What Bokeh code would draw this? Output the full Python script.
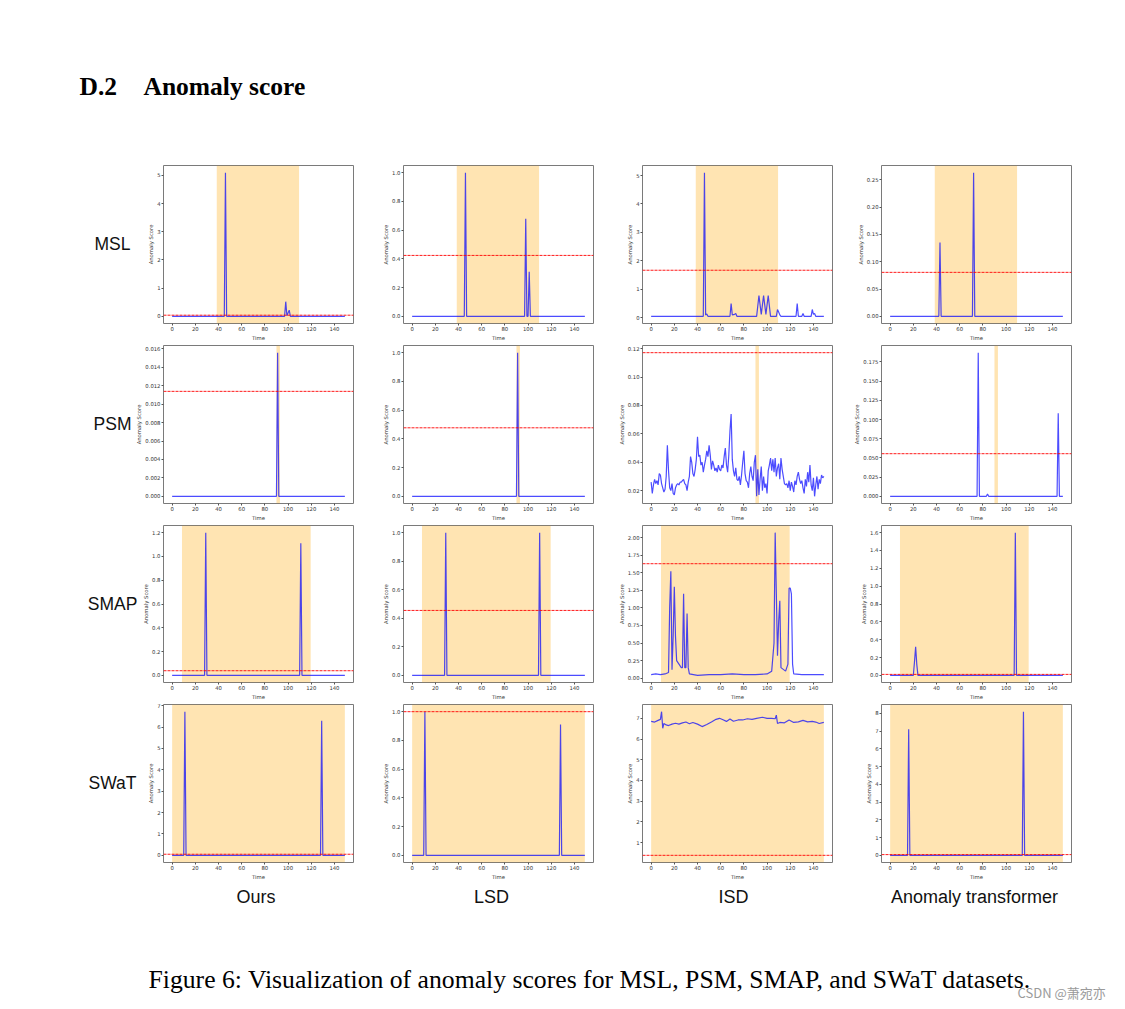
from bokeh.plotting import figure
from bokeh.models import Range1d, FixedTicker, Span
from bokeh.layouts import column, row
from bokeh.embed import file_html
from bokeh.resources import INLINE
from bokeh.core.properties import value

ROWS = ["MSL", "PSM", "SMAP", "SWaT"]
COLS = ["Ours", "LSD", "ISD", "Anomaly transformer"]
TITLE_NUM = "D.2"
TITLE_TXT = "Anomaly score"
CAPTION = "Figure 6: Visualization of anomaly scores for MSL, PSM, SMAP, and SWaT datasets."
WATERMARK = "CSDN @萧宛亦"

XTICKS = [0, 20, 40, 60, 80, 100, 120, 140]
XLABELS = ["0", "20", "40", "60", "80", "100", "120", "140"]
T_START, T_END = 0, 149

# ---------------- MSL ----------------
MSL_SPAN = (38.5, 109.5)
MSL_OURS_T = [0, 45, 46, 47, 97, 98, 99, 101, 102, 149]
MSL_OURS_V = [0, 0, 5.1, 0, 0, 0.52, 0.02, 0.22, 0, 0]
MSL_OURS_THR = 0.04
MSL_LSD_T = [0, 45, 46, 47, 97, 98, 99, 100, 101, 102, 149]
MSL_LSD_V = [0, 0, 1.0, 0, 0, 0.68, 0, 0, 0.31, 0, 0]
MSL_LSD_THR = 0.424
MSL_ISD_T = [0, 45, 46, 47, 48, 49, 68, 69, 70, 72, 73, 74, 91, 93, 95, 97, 99, 101, 103,
             108, 109, 110, 111, 112, 125, 126, 127, 130, 131, 132, 138, 139, 140, 141, 142, 149]
MSL_ISD_V = [0.05, 0.05, 5.1, 0.1, 0.13, 0.05, 0.05, 0.5, 0.1, 0.12, 0.15, 0.05, 0.05, 0.78, 0.12,
             0.78, 0.12, 0.78, 0.05, 0.05, 0.29, 0.2, 0.1, 0.05, 0.05, 0.5, 0.05, 0.05, 0.15, 0.05,
             0.05, 0.29, 0.12, 0.15, 0.05, 0.05]
MSL_ISD_THR = 1.67
MSL_AT_T = [0, 42, 43, 44, 71, 72, 73, 149]
MSL_AT_V = [0, 0, 0.135, 0, 0, 0.263, 0, 0]
MSL_AT_THR = 0.0805

# ---------------- PSM ----------------
PSM_SPAN = (90, 93)
PSM_OURS_T = [0, 90, 91, 92, 149]
PSM_OURS_V = [0, 0, 0.0156, 0, 0]
PSM_OURS_THR = 0.0114
PSM_LSD_T = [0, 90, 91, 92, 149]
PSM_LSD_V = [0, 0, 1.0, 0, 0]
PSM_LSD_THR = 0.477
PSM_ISD_T = list(range(0, 150))
PSM_ISD_V = [0.026, 0.018, 0.024, 0.028, 0.025, 0.027, 0.024, 0.032, 0.031, 0.025,
             0.022, 0.019, 0.021, 0.030, 0.052, 0.034, 0.022, 0.020, 0.025, 0.018,
             0.017, 0.022, 0.024, 0.025, 0.024, 0.026, 0.026, 0.027, 0.028, 0.025,
             0.024, 0.020, 0.026, 0.030, 0.044, 0.040, 0.032, 0.030, 0.035, 0.042,
             0.058, 0.044, 0.045, 0.038, 0.040, 0.033, 0.038, 0.042, 0.048, 0.044,
             0.052, 0.045, 0.035, 0.041, 0.038, 0.034, 0.036, 0.033, 0.038, 0.035,
             0.034, 0.038, 0.036, 0.044, 0.050, 0.038, 0.033, 0.045, 0.062, 0.074,
             0.042, 0.034, 0.030, 0.036, 0.028, 0.027, 0.030, 0.024, 0.031, 0.040,
             0.048, 0.032, 0.027, 0.026, 0.022, 0.032, 0.037, 0.030, 0.027, 0.040,
             0.045, 0.016, 0.035, 0.017, 0.028, 0.037, 0.020, 0.030, 0.022, 0.025,
             0.018, 0.034, 0.038, 0.043, 0.034, 0.042, 0.033, 0.043, 0.030, 0.036,
             0.039, 0.028, 0.043, 0.035, 0.030, 0.025, 0.024, 0.025, 0.022, 0.027,
             0.020, 0.026, 0.023, 0.019, 0.027, 0.024, 0.030, 0.033, 0.028, 0.025,
             0.027, 0.022, 0.018, 0.028, 0.023, 0.033, 0.026, 0.038, 0.024, 0.020,
             0.029, 0.016, 0.024, 0.030, 0.021, 0.028, 0.025, 0.031, 0.029, 0.030]
PSM_ISD_THR = 0.1172
PSM_AT_T = [0, 75, 76, 77, 83, 84, 85, 144, 145, 146, 149]
PSM_AT_V = [0, 0, 0.187, 0, 0, 0.003, 0, 0, 0.108, 0, 0]
PSM_AT_THR = 0.0555

# ---------------- SMAP ----------------
SMAP_SPAN = (8.5, 119.5)
SMAP_OURS_T = [0, 28, 29, 30, 110, 111, 112, 149]
SMAP_OURS_V = [0, 0, 1.2, 0, 0, 1.11, 0, 0]
SMAP_OURS_THR = 0.039
SMAP_LSD_T = [0, 28, 29, 30, 109, 110, 111, 149]
SMAP_LSD_V = [0, 0, 1.0, 0, 0, 1.0, 0, 0]
SMAP_LSD_THR = 0.455
SMAP_ISD_T = [0, 4, 8, 12, 15, 16, 17, 18, 19, 20, 21, 22, 24, 26, 27, 28, 29, 30, 31, 32, 33,
              40, 50, 60, 70, 80, 90, 100, 104, 106, 107, 108, 109, 110, 111, 112, 116, 118,
              119, 120, 121, 122, 123, 130, 140, 149]
SMAP_ISD_V = [0.05, 0.06, 0.05, 0.06, 0.08, 1.0, 1.52, 0.12, 0.6, 1.3, 0.6, 0.25, 0.2, 0.15, 0.15,
              1.2, 0.15, 0.15, 0.92, 0.15, 0.06, 0.04, 0.05, 0.05, 0.06, 0.05, 0.05, 0.06, 0.1,
              0.5, 2.07, 1.2, 0.32, 0.8, 1.1, 0.15, 0.1, 0.2, 1.28, 1.28, 1.2, 0.2, 0.06, 0.05,
              0.05, 0.05]
SMAP_ISD_THR = 1.628
SMAP_AT_T = [0, 20, 21, 22, 23, 24, 107, 108, 109, 149]
SMAP_AT_V = [0, 0, 0.15, 0.32, 0.12, 0, 0, 1.6, 0, 0]
SMAP_AT_THR = 0.011

# ---------------- SWaT ----------------
SWAT_SPAN = (0, 149)
SWAT_OURS_T = [0, 10, 11, 12, 128, 129, 130, 149]
SWAT_OURS_V = [0, 0, 6.72, 0, 0, 6.3, 0, 0]
SWAT_OURS_THR = 0.05
SWAT_LSD_T = [0, 10, 11, 12, 127, 128, 129, 149]
SWAT_LSD_V = [0, 0, 1.0, 0, 0, 0.91, 0, 0]
SWAT_LSD_THR = 1.0
SWAT_ISD_T = [0, 3, 6, 8, 9, 10, 11, 13, 15, 18, 21, 24, 27, 30, 33, 36, 40, 44, 48, 52, 56, 59,
              62, 65, 68, 71, 75, 79, 83, 87, 91, 96, 100, 104, 107, 108, 109, 111, 115, 119,
              123, 127, 131, 135, 139, 142, 145, 149]
SWAT_ISD_V = [6.85, 6.82, 6.9, 6.95, 7.32, 6.52, 6.75, 6.68, 6.65, 6.72, 6.76, 6.72, 6.78, 6.82,
              6.74, 6.8, 6.72, 6.6, 6.7, 6.82, 6.95, 7.0, 6.93, 6.85, 6.97, 6.86, 6.92, 6.92, 6.98,
              6.95, 7.0, 7.05, 7.0, 7.0, 6.98, 7.15, 6.75, 6.8, 6.78, 6.92, 6.8, 6.83, 6.9, 6.83,
              6.85, 6.82, 6.75, 6.8]
SWAT_ISD_THR = 0.385
SWAT_AT_T = [0, 15, 16, 17, 114, 115, 116, 149]
SWAT_AT_V = [0, 0, 7.1, 0, 0, 8.09, 0, 0]
SWAT_AT_THR = 0.04

# ---------------- y tick values / labels ----------------
YT_0_5 = [0, 1, 2, 3, 4, 5]
YL_0_5 = ["0", "1", "2", "3", "4", "5"]
YT_UNIT = [0.0, 0.2, 0.4, 0.6, 0.8, 1.0]
YL_UNIT = ["0.0", "0.2", "0.4", "0.6", "0.8", "1.0"]
YT_MSL_AT = [0.0, 0.05, 0.1, 0.15, 0.2, 0.25]
YL_MSL_AT = ["0.00", "0.05", "0.10", "0.15", "0.20", "0.25"]
YT_PSM_OURS = [0.0, 0.002, 0.004, 0.006, 0.008, 0.01, 0.012, 0.014, 0.016]
YL_PSM_OURS = ["0.000", "0.002", "0.004", "0.006", "0.008", "0.010", "0.012", "0.014", "0.016"]
YT_PSM_ISD = [0.02, 0.04, 0.06, 0.08, 0.1, 0.12]
YL_PSM_ISD = ["0.02", "0.04", "0.06", "0.08", "0.10", "0.12"]
YT_PSM_AT = [0.0, 0.025, 0.05, 0.075, 0.1, 0.125, 0.15, 0.175]
YL_PSM_AT = ["0.000", "0.025", "0.050", "0.075", "0.100", "0.125", "0.150", "0.175"]
YT_SMAP_OURS = [0.0, 0.2, 0.4, 0.6, 0.8, 1.0, 1.2]
YL_SMAP_OURS = ["0.0", "0.2", "0.4", "0.6", "0.8", "1.0", "1.2"]
YT_SMAP_ISD = [0.0, 0.25, 0.5, 0.75, 1.0, 1.25, 1.5, 1.75, 2.0]
YL_SMAP_ISD = ["0.00", "0.25", "0.50", "0.75", "1.00", "1.25", "1.50", "1.75", "2.00"]
YT_SMAP_AT = [0.0, 0.2, 0.4, 0.6, 0.8, 1.0, 1.2, 1.4, 1.6]
YL_SMAP_AT = ["0.0", "0.2", "0.4", "0.6", "0.8", "1.0", "1.2", "1.4", "1.6"]
YT_SWAT_OURS = [0, 1, 2, 3, 4, 5, 6, 7]
YL_SWAT_OURS = ["0", "1", "2", "3", "4", "5", "6", "7"]
YT_SWAT_ISD = [1, 2, 3, 4, 5, 6, 7]
YL_SWAT_ISD = ["1", "2", "3", "4", "5", "6", "7"]
YT_SWAT_AT = [0, 1, 2, 3, 4, 5, 6, 7, 8]
YL_SWAT_AT = ["0", "1", "2", "3", "4", "5", "6", "7", "8"]

PANELS = [
    [(MSL_OURS_T, MSL_OURS_V, MSL_OURS_THR, MSL_SPAN, YT_0_5, YL_0_5),
     (MSL_LSD_T, MSL_LSD_V, MSL_LSD_THR, MSL_SPAN, YT_UNIT, YL_UNIT),
     (MSL_ISD_T, MSL_ISD_V, MSL_ISD_THR, MSL_SPAN, YT_0_5, YL_0_5),
     (MSL_AT_T, MSL_AT_V, MSL_AT_THR, MSL_SPAN, YT_MSL_AT, YL_MSL_AT)],
    [(PSM_OURS_T, PSM_OURS_V, PSM_OURS_THR, PSM_SPAN, YT_PSM_OURS, YL_PSM_OURS),
     (PSM_LSD_T, PSM_LSD_V, PSM_LSD_THR, PSM_SPAN, YT_UNIT, YL_UNIT),
     (PSM_ISD_T, PSM_ISD_V, PSM_ISD_THR, PSM_SPAN, YT_PSM_ISD, YL_PSM_ISD),
     (PSM_AT_T, PSM_AT_V, PSM_AT_THR, PSM_SPAN, YT_PSM_AT, YL_PSM_AT)],
    [(SMAP_OURS_T, SMAP_OURS_V, SMAP_OURS_THR, SMAP_SPAN, YT_SMAP_OURS, YL_SMAP_OURS),
     (SMAP_LSD_T, SMAP_LSD_V, SMAP_LSD_THR, SMAP_SPAN, YT_UNIT, YL_UNIT),
     (SMAP_ISD_T, SMAP_ISD_V, SMAP_ISD_THR, SMAP_SPAN, YT_SMAP_ISD, YL_SMAP_ISD),
     (SMAP_AT_T, SMAP_AT_V, SMAP_AT_THR, SMAP_SPAN, YT_SMAP_AT, YL_SMAP_AT)],
    [(SWAT_OURS_T, SWAT_OURS_V, SWAT_OURS_THR, SWAT_SPAN, YT_SWAT_OURS, YL_SWAT_OURS),
     (SWAT_LSD_T, SWAT_LSD_V, SWAT_LSD_THR, SWAT_SPAN, YT_UNIT, YL_UNIT),
     (SWAT_ISD_T, SWAT_ISD_V, SWAT_ISD_THR, SWAT_SPAN, YT_SWAT_ISD, YL_SWAT_ISD),
     (SWAT_AT_T, SWAT_AT_V, SWAT_AT_THR, SWAT_SPAN, YT_SWAT_AT, YL_SWAT_AT)],
]

# ---------------- layout constants ----------------
PAGE_W = 1117
HEADER_H = 163
FRAME1_LEFT = 163                 # screen x of first column's plot frame
LABEL_W = [134, 131, 138, 138]    # row-label strip width, per row
COL_W = [None, 239, 239, 240]
COL_LEFT = [None, 40, 40, 40]
COL_RIGHT = [10, 9, 9, 10]
FRAME_W = 190
ROW_H = [180, 180, 179, 180]
ROW_BOTTOM = [19, 19, 18, 19]
BORDER_TOP = 2
FOOTER_H = 125

TICK_FONT = "DejaVu Sans"
TICK_SIZE = "5.3px"
TICK_COLOR = "#333333"


def panel(t, v, thr, span, yticks, ylabels, w, h, left, right, bottom):
    ymin = min(min(v), thr)
    ymax = max(max(v), thr)
    ypad = 0.05 * (ymax - ymin)
    xpad = 0.05 * (T_END - T_START)
    p = figure(width=w, height=h,
               x_range=Range1d(T_START - xpad, T_END + xpad),
               y_range=Range1d(ymin - ypad, ymax + ypad),
               output_backend="svg", toolbar_location=None,
               min_border_left=left, min_border_right=right,
               min_border_top=BORDER_TOP, min_border_bottom=bottom)
    p.grid.visible = False
    p.outline_line_color = "#7a7a7a"
    p.outline_line_width = 1
    p.background_fill_color = "white"
    p.border_fill_color = "white"
    p.quad(left=[span[0]], right=[span[1]], bottom=[ymin - ypad], top=[ymax + ypad],
           fill_color="orange", fill_alpha=0.3, line_color=None)
    p.line(t, v, line_color="blue", line_alpha=0.7, line_width=1.2)
    p.add_layout(Span(location=thr, dimension="width", line_color="red",
                      line_dash="3 1", line_width=1, line_alpha=0.9))
    p.xaxis.ticker = FixedTicker(ticks=XTICKS)
    p.xaxis.major_label_overrides = {k: s for k, s in zip(XTICKS, XLABELS)}
    p.yaxis.ticker = FixedTicker(ticks=yticks)
    p.yaxis.major_label_overrides = {k: s for k, s in zip(yticks, ylabels)}
    p.xaxis.axis_label = "Time"
    p.yaxis.axis_label = "Anomaly Score"
    for ax in (p.xaxis[0], p.yaxis[0]):
        ax.axis_line_color = None
        ax.major_tick_out = 2
        ax.major_tick_in = 0
        ax.major_tick_line_color = "#555555"
        ax.minor_tick_line_color = None
        ax.major_label_standoff = 1
        ax.axis_label_standoff = 1
        ax.major_label_text_font = TICK_FONT
        ax.major_label_text_font_size = TICK_SIZE
        ax.major_label_text_color = TICK_COLOR
        ax.axis_label_text_font = TICK_FONT
        ax.axis_label_text_font_size = TICK_SIZE
        ax.axis_label_text_color = TICK_COLOR
        ax.axis_label_text_font_style = "normal"
    p.yaxis[0].axis_label_standoff = 0
    return p


def blank(w, h):
    p = figure(width=w, height=h, x_range=Range1d(0, w), y_range=Range1d(h, 0),
               x_axis_type=None, y_axis_type=None, output_backend="svg",
               toolbar_location=None, min_border=0)
    p.grid.visible = False
    p.outline_line_color = None
    return p


# header
header = blank(PAGE_W, HEADER_H)
header.text(x=[79], y=[86], text=[TITLE_NUM], text_font=value("Liberation Serif"),
            text_font_size="25.5px", text_font_style="bold", text_baseline="alphabetic",
            text_align="left", text_color="black")
header.text(x=[143], y=[86], text=[TITLE_TXT], text_font=value("Liberation Serif"),
            text_font_size="25.5px", text_font_style="bold", text_baseline="alphabetic",
            text_align="left", text_color="black")

rows = []
for ri, rname in enumerate(ROWS):
    lw = LABEL_W[ri]
    lab = blank(lw, ROW_H[ri])
    lab.text(x=[112], y=[89.5], text=[rname], text_font=value("Liberation Sans"),
             text_font_size="17.5px", text_baseline="middle", text_align="center",
             text_color="#111111")
    cells = [lab]
    for ci in range(4):
        t, v, thr, span, yt, yl = PANELS[ri][ci]
        if ci == 0:
            left = FRAME1_LEFT - lw
            w = left + FRAME_W + COL_RIGHT[0]
        else:
            left = COL_LEFT[ci]
            w = COL_W[ci]
        cells.append(panel(t, v, thr, span, yt, yl, w, ROW_H[ri],
                           left, COL_RIGHT[ci], ROW_BOTTOM[ri]))
    rows.append(row(*cells))

footer = blank(PAGE_W, FOOTER_H)
COL_LABEL_X = [255.5, 491, 733, 974]
footer.text(x=COL_LABEL_X, y=[14] * 4, text=COLS, text_font=value("Liberation Sans"),
            text_font_size="18px", text_baseline="middle", text_align="center",
            text_color="#111111")
footer.text(x=[148], y=[96.7], text=[CAPTION], text_font=value("Liberation Serif"),
            text_font_size="25.7px", text_baseline="alphabetic", text_align="left",
            text_color="black")
footer.text(x=[1017], y=[109.7], text=[WATERMARK], text_font=value("Noto Sans CJK SC"),
            text_font_size="13px", text_baseline="alphabetic", text_align="left",
            text_color="#9a9a9a")

layout = column(header, *rows, footer)
open("out.html", "w").write(file_html(layout, INLINE))
